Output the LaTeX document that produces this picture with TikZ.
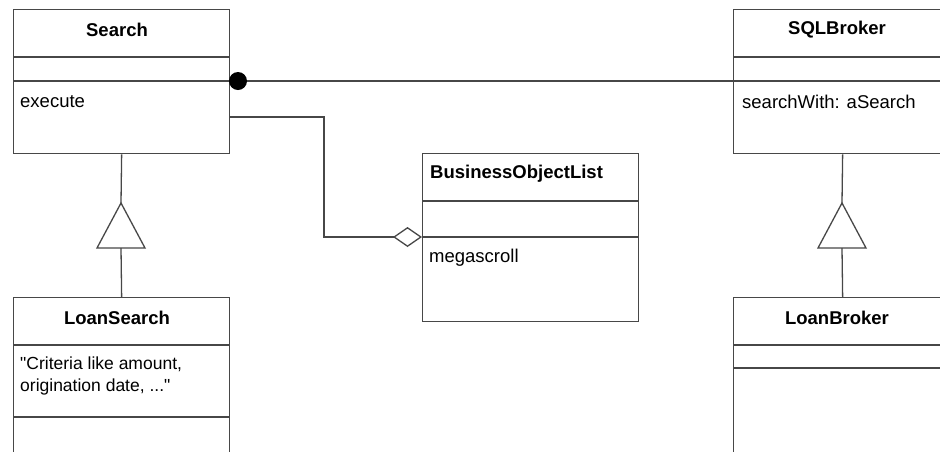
\documentclass[tikz,border=0pt]{standalone}
\usepackage{fontspec}
\setmainfont{Liberation Sans}
\usetikzlibrary{arrows.meta}
\tikzset{
  ln/.style={draw=black!72, line width=1.3pt},
  classbox/.style={ln, rectangle, anchor=north west, inner sep=0pt},
  title/.style={font=\fontsize{18.5}{22}\selectfont\bfseries, inner sep=0pt, text=black},
  member/.style={font=\fontsize{18.5}{22}\selectfont, inner sep=0pt, anchor=west, text=black, align=left},
}
\begin{document}
\begin{tikzpicture}[x=1pt,y=-1pt]
\useasboundingbox (0,0) rectangle (940,451);
\clip (0,0) rectangle (940,451);
% class boxes
\node[classbox, minimum width=216pt, minimum height=144pt] (search) at (13,9) {};
\node[classbox, minimum width=218pt, minimum height=144pt] (sql) at (733,9) {};
\node[classbox, minimum width=216pt, minimum height=168pt] (bol) at (422,153) {};
\node[classbox, minimum width=216pt, minimum height=170pt] (lsearch) at (13,297) {};
\node[classbox, minimum width=218pt, minimum height=170pt] (lbroker) at (733,297) {};
% dividers
\draw[ln] (search.west |- 0,57) -- (search.east |- 0,57);
\draw[ln] (search.west |- 0,81) -- (search.east |- 0,81);
\draw[ln] (sql.west |- 0,57) -- (sql.east |- 0,57);
\draw[ln] (sql.west |- 0,81) -- (sql.east |- 0,81);
\draw[ln] (bol.west |- 0,201) -- (bol.east |- 0,201);
\draw[ln] (bol.west |- 0,237) -- (bol.east |- 0,237);
\draw[ln] (lsearch.west |- 0,345) -- (lsearch.east |- 0,345);
\draw[ln] (lsearch.west |- 0,417) -- (lsearch.east |- 0,417);
\draw[ln] (lbroker.west |- 0,345) -- (lbroker.east |- 0,345);
\draw[ln] (lbroker.west |- 0,368) -- (lbroker.east |- 0,368);
% texts
\node[title] (tsearch) at (117,30) {Search};
\node[member] (mexec) at (20,102) {execute};
\node[title] (tsql) at (837,30) {SQLBroker};
\node[member] (msql) at (742,102) {searchWith: aSearch};
\node[title, anchor=west] (tbol) at (430,174) {BusinessObjectList};
\node[member] (mbol) at (429,258) {megascroll};
\node[title] (tls) at (117,318) {LoanSearch};
\node[member, anchor=north west, font=\fontsize{17.5}{22}\selectfont] (mls) at (20,357) {\textquotedbl Criteria like amount,\\origination date, ...\textquotedbl};
\node[title] (tlb) at (837,318) {LoanBroker};
% association with filled circle
\node[circle, fill=black, inner sep=0pt, minimum size=18pt] (dot) at (238,81) {};
\draw[ln] (dot.east) -- (sql.west |- dot.east);
% aggregation
\coordinate (a1) at (324,117);
\coordinate (a2) at (324,237);
\draw[ln, -{Diamond[open, fill=white, length=29pt, width=20pt]}] (search.east |- a1) -- (a1) -- (a2) -- (bol.west |- a2);
% generalisations
\coordinate (g1apex) at (121,203);
\coordinate (g1base) at (121,248);
\draw[ln] (search.south) -- (g1apex);
\draw[ln, fill=white] (g1apex) -- ++(-24,45) -- ++(48,0) -- cycle;
\draw[ln] (g1base) -- (lsearch.north);
\coordinate (g2apex) at (842,203);
\coordinate (g2base) at (842,248);
\draw[ln] (sql.south) -- (g2apex);
\draw[ln, fill=white] (g2apex) -- ++(-24,45) -- ++(48,0) -- cycle;
\draw[ln] (g2base) -- (lbroker.north);
\end{tikzpicture}
\end{document}
